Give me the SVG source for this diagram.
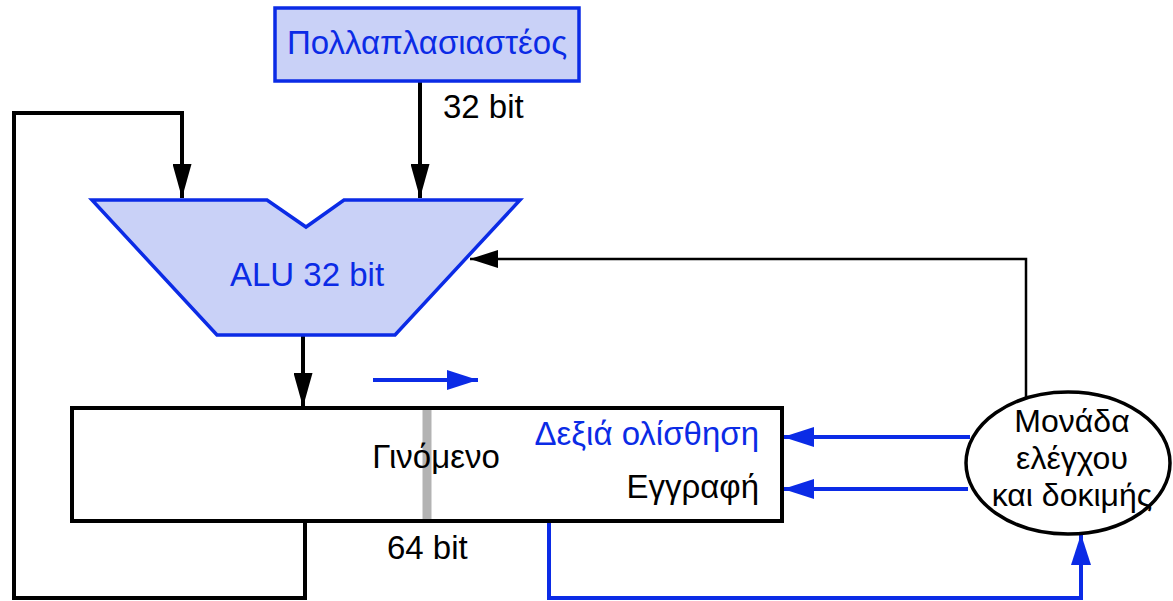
<svg xmlns="http://www.w3.org/2000/svg" width="1173" height="601" viewBox="0 0 1173 601">
<style>
  text { font-family: "Liberation Sans", Arial, sans-serif; font-size: 33px; }
  .blue { fill: #0b2be6; }
  .black { fill: #000; }
  .bshape { fill: #c9d1f7; stroke: #0b2be6; stroke-width: 3.5; stroke-linejoin: miter; }
  .kline { fill: none; stroke: #000; stroke-width: 4; }
  .kthin { fill: none; stroke: #000; stroke-width: 2.5; }
  .bline { fill: none; stroke: #0b2be6; stroke-width: 4; }
  .ell { font-size: 32px; }
</style>
<defs>
  <marker id="ak" viewBox="0 0 34 19" markerWidth="34" markerHeight="19" refX="34" refY="9.5" orient="auto" markerUnits="userSpaceOnUse">
    <path d="M0,0 L34,9.5 L0,19 z" fill="#000"/>
  </marker>
  <marker id="aks" viewBox="0 0 28 18" markerWidth="28" markerHeight="18" refX="28" refY="9" orient="auto" markerUnits="userSpaceOnUse">
    <path d="M0,0 L28,9 L0,18 z" fill="#000"/>
  </marker>
  <marker id="ab" viewBox="0 0 31 20" markerWidth="31" markerHeight="20" refX="31" refY="10" orient="auto" markerUnits="userSpaceOnUse">
    <path d="M0,0 L31,10 L0,20 z" fill="#0b2be6"/>
  </marker>
</defs>
<rect width="1173" height="601" fill="#fff"/>

<g id="connectors">
  <polyline class="kline" points="305,521 305,598 14,598 14,113 182,113 182,198" marker-end="url(#ak)"/>
  <line class="kline" x1="420" y1="81" x2="420" y2="198" marker-end="url(#ak)"/>
  <line class="kline" x1="303" y1="336" x2="303" y2="407" marker-end="url(#ak)"/>
  <polyline class="kthin" points="1026,398 1026,259 470,259" marker-end="url(#aks)"/>
  <line class="bline" x1="970" y1="437" x2="783" y2="437" marker-end="url(#ab)"/>
  <line class="bline" x1="968" y1="489" x2="783" y2="489" marker-end="url(#ab)"/>
  <polyline class="bline" points="549,522 549,598 1081,598 1081,534" marker-end="url(#ab)"/>
  <line class="bline" x1="373" y1="380" x2="478" y2="380" marker-end="url(#ab)"/>
</g>

<g id="multiplicand">
  <rect class="bshape" x="275" y="8" width="304" height="73"/>
  <text class="blue" x="427" y="54" text-anchor="middle" font-size="34">Πολλαπλασιαστέος</text>
</g>
<text class="black" x="443" y="118" font-size="32.5">32 bit</text>

<g id="alu">
  <polygon class="bshape" points="92,200 267,200 306,227 344,200 520,200 395,335 217,335"/>
  <text class="blue" x="307" y="286" text-anchor="middle" font-size="34">ALU 32 bit</text>
</g>

<g id="product">
  <rect x="72" y="408" width="710" height="113" fill="#fff" stroke="#000" stroke-width="4"/>
  <rect x="422.5" y="410" width="9" height="109" fill="#b3b3b3"/>
  <text class="black" x="436" y="468" text-anchor="middle">Γινόμενο</text>
  <text class="blue" x="759" y="445" text-anchor="end">Δεξιά ολίσθηση</text>
  <text class="black" x="759" y="498" text-anchor="end">Εγγραφή</text>
</g>
<text class="black" x="387" y="559">64 bit</text>

<g id="control">
  <ellipse cx="1068" cy="463" rx="102" ry="71" fill="#fff" stroke="#000" stroke-width="3.5"/>
  <text class="black ell" x="1072" y="432" text-anchor="middle">Μονάδα</text>
  <text class="black ell" x="1072" y="469" text-anchor="middle">ελέγχου</text>
  <text class="black ell" x="1072" y="506" text-anchor="middle">και δοκιμής</text>
</g>
</svg>
